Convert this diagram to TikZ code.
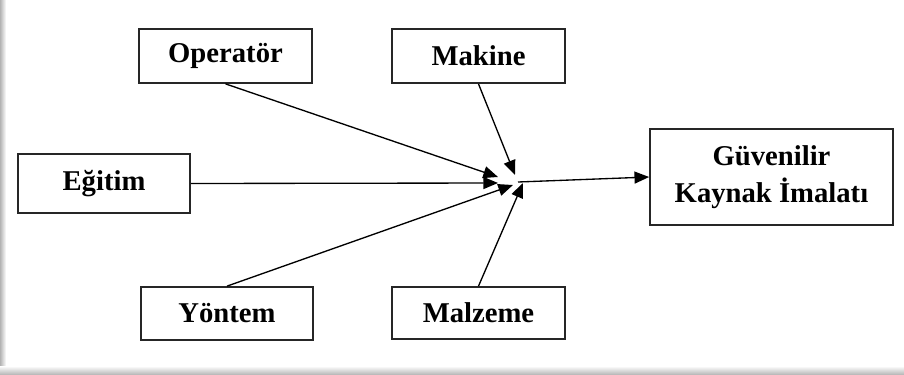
\documentclass[tikz,border=0pt]{standalone}
\usepackage{fontspec}
\setmainfont{Liberation Serif}
\usetikzlibrary{arrows.meta}
\begin{document}
\begin{tikzpicture}[x=0.75pt,y=-0.75pt,
		kutu/.style={draw=black!85,line width=1.3pt,fill=white,align=center,
			font=\fontsize{21.5}{27.5}\selectfont\bfseries,inner sep=0pt},
		ok/.style={line width=1pt,-{Triangle[length=11pt,width=9pt]}}]
		\useasboundingbox (0,0) rectangle (904,375);
		% cerceve golgesi
		\shade[left color=black!30,right color=white] (0,0) rectangle (6,375);
		\shade[top color=white,bottom color=black!30] (0,366) rectangle (904,375);
		\fill[white] (6,0) rectangle (904,367);
		% kutular
		\node[kutu,minimum width=129.75pt,minimum height=40.5pt] (operator) at (225.5,56) {Operatör};
		\node[kutu,minimum width=129.75pt,minimum height=40.5pt] (makine) at (478.5,56) {Makine};
		\node[kutu,minimum width=129pt,minimum height=44.25pt] (egitim) at (104,183.5) {Eğitim};
		\node[kutu,minimum width=129pt,minimum height=39.75pt] (yontem) at (227,313.5) {Yöntem};
		\node[kutu,minimum width=129.75pt,minimum height=39pt] (malzeme) at (478.5,313) {Malzeme};
		\node[kutu,minimum width=182.25pt,minimum height=72pt] (sonuc) at (771.5,177) {Güvenilir\\Kaynak İmalatı};
		% ok uclari
		\coordinate (uO) at (498,177);
		\coordinate (uM) at (515,175);
		\coordinate (uE) at (498,183);
		\coordinate (uY) at (513,185);
		\coordinate (uZ) at (523,183);
		\coordinate (cikis) at (518,182);
		% oklar
		\draw[ok] (operator.south) -- (uO);
		\draw[ok] (makine.south) -- (uM);
		\draw[ok] (egitim.east) -- (uE);
		\draw[ok] (yontem.north) -- (uY);
		\draw[ok] (malzeme.north) -- (uZ);
		\draw[ok] (cikis) -- (sonuc.west);
\end{tikzpicture}
\end{document}
